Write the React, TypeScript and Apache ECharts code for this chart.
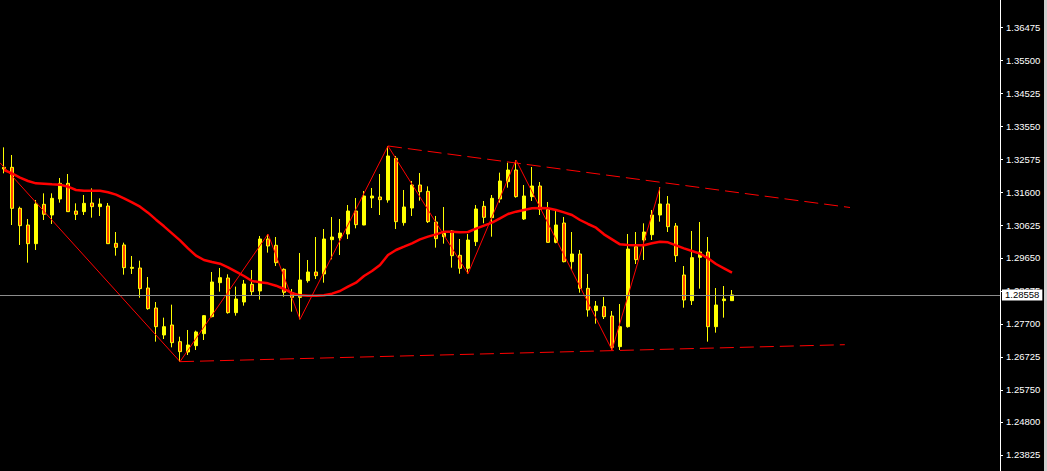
import React, { useEffect, useRef } from "react";
import * as echarts from "echarts";

// ---- Data ----
const SLOT_COUNT = 125; // bar slots across the plot (includes chart shift on the right)

const opens = [
  1.32332, 1.32332, 1.31119, 1.30626, 1.30074, 1.31238, 1.30922, 1.31395, 1.31859, 1.3104,
  1.31021, 1.31277, 1.31169, 1.31188, 1.30084, 1.30035, 1.29344, 1.29354, 1.28762, 1.28171,
  1.27372, 1.27668, 1.27175, 1.26869, 1.27056, 1.27411, 1.27914, 1.2892, 1.29058, 1.28033,
  1.28348, 1.28871, 1.28674, 1.30212, 1.30025, 1.29315, 1.28624, 1.28486, 1.28979, 1.29236,
  1.29177, 1.30192, 1.30242, 1.3036, 1.3104, 1.30626, 1.31425, 1.31455, 1.31366, 1.32599,
  1.30695, 1.31129, 1.3181, 1.31622, 1.30715, 1.30281, 1.30449, 1.29729, 1.29344, 1.30133,
  1.31178, 1.30843, 1.31395, 1.31908, 1.32253, 1.30804, 1.31465, 1.3178, 1.3109, 1.30113,
  1.30685, 1.29541, 1.29768, 1.28752, 1.28092, 1.2821, 1.27934, 1.27027, 1.27618, 1.29985,
  1.30182, 1.3034, 1.30922, 1.31248, 1.30597, 1.29147, 1.28388, 1.2967, 1.29827, 1.27618,
  1.28388, 1.28388,
];

const closes = [
  1.32283, 1.31119, 1.30607, 1.30074, 1.31248, 1.30942, 1.31415, 1.31859, 1.31021, 1.30942,
  1.31267, 1.31169, 1.31248, 1.30074, 1.29965, 1.29364, 1.29374, 1.28743, 1.28151, 1.27618,
  1.27618, 1.27145, 1.26879, 1.27076, 1.27461, 1.27944, 1.2894, 1.29068, 1.28033, 1.28437,
  1.28881, 1.28654, 1.30212, 1.30005, 1.29512, 1.28634, 1.28486, 1.28999, 1.29236, 1.29127,
  1.30212, 1.30271, 1.30389, 1.3104, 1.30636, 1.31484, 1.31484, 1.31376, 1.32668, 1.30725,
  1.31159, 1.3181, 1.31612, 1.30725, 1.30222, 1.3038, 1.29719, 1.29344, 1.30182, 1.311,
  1.30853, 1.31415, 1.31928, 1.32253, 1.31465, 1.31484, 1.3178, 1.3109, 1.30113, 1.30626,
  1.29541, 1.29768, 1.28752, 1.28111, 1.2823, 1.27914, 1.27007, 1.27618, 1.29916, 1.29601,
  1.30419, 1.30922, 1.31248, 1.30577, 1.29719, 1.28407, 1.2966, 1.29827, 1.27618, 1.28259,
  1.28437, 1.28558,
];

const lows = [
  1.32155, 1.30626, 1.30035, 1.29512, 1.29887, 1.30774, 1.30656, 1.31287, 1.31015, 1.30774,
  1.30922, 1.30843, 1.30893, 1.3007, 1.29719, 1.29157, 1.29177, 1.28476, 1.28121, 1.27175,
  1.27253, 1.27007, 1.26583, 1.2678, 1.26928, 1.27224, 1.27894, 1.28654, 1.28003, 1.27944,
  1.2824, 1.28555, 1.28417, 1.29808, 1.29413, 1.28506, 1.28062, 1.27835, 1.2892, 1.29029,
  1.2892, 1.2961, 1.29739, 1.30212, 1.30528, 1.3062, 1.31129, 1.30922, 1.31287, 1.30508,
  1.30607, 1.30893, 1.31346, 1.30685, 1.29956, 1.30074, 1.29364, 1.29186, 1.29186, 1.30005,
  1.30676, 1.30281, 1.31287, 1.31731, 1.31435, 1.30774, 1.31336, 1.30922, 1.30105, 1.30084,
  1.29522, 1.29295, 1.28624, 1.27914, 1.27707, 1.27845, 1.26928, 1.26928, 1.27589, 1.29472,
  1.29591, 1.30182, 1.30725, 1.30419, 1.29532, 1.2818, 1.28259, 1.28743, 1.27175, 1.27441,
  1.27885, 1.28388,
];

const highs = [
  1.32924, 1.32697, 1.31169, 1.30804, 1.31366, 1.31563, 1.31563, 1.32017, 1.32135, 1.31267,
  1.31514, 1.31711, 1.31415, 1.31277, 1.30419, 1.30104, 1.29709, 1.29571, 1.29088, 1.28348,
  1.27885, 1.28269, 1.27322, 1.2752, 1.275, 1.27963, 1.29236, 1.29354, 1.29167, 1.28802,
  1.28999, 1.29295, 1.30301, 1.3036, 1.30271, 1.29344, 1.28733, 1.29798, 1.29591, 1.30271,
  1.30508, 1.30863, 1.30804, 1.31218, 1.31425, 1.31632, 1.31721, 1.32135, 1.32964, 1.32668,
  1.31662, 1.31928, 1.32165, 1.3177, 1.30893, 1.31159, 1.30478, 1.30212, 1.3036, 1.31218,
  1.31336, 1.31514, 1.32175, 1.3247, 1.32549, 1.3181, 1.32342, 1.31898, 1.31307, 1.3105,
  1.30863, 1.30419, 1.29887, 1.29177, 1.28378, 1.28496, 1.28082, 1.28289, 1.3036, 1.30419,
  1.30676, 1.3107, 1.31741, 1.31484, 1.30685, 1.29413, 1.30449, 1.30715, 1.30271, 1.28762,
  1.28821, 1.28703,
];

const movingAverage = [
  1.32253, 1.32155, 1.32027, 1.31928, 1.31859, 1.31849, 1.31829, 1.3182, 1.3176, 1.31662,
  1.31642, 1.31642, 1.31642, 1.31593, 1.31524, 1.31415, 1.31297, 1.31169, 1.30991, 1.30784,
  1.30587, 1.3038, 1.30173, 1.29936, 1.29719, 1.29591, 1.29532, 1.29482, 1.29374, 1.29246,
  1.29117, 1.28969, 1.2893, 1.289, 1.28831, 1.28733, 1.28614, 1.28545, 1.28535, 1.28535,
  1.28545, 1.28595, 1.28674, 1.28802, 1.2892, 1.29117, 1.29265, 1.29443, 1.29739, 1.29887,
  1.29985, 1.30084, 1.30202, 1.30281, 1.3035, 1.30429, 1.30429, 1.30409, 1.30419, 1.30518,
  1.30607, 1.30695, 1.30823, 1.30952, 1.31021, 1.3107, 1.31119, 1.31129, 1.31119, 1.3107,
  1.31001, 1.30922, 1.30774, 1.30656, 1.30547, 1.3035, 1.30202, 1.30054, 1.30035, 1.30025,
  1.30025, 1.30084, 1.30133, 1.30113, 1.30025, 1.29936, 1.29857, 1.29778, 1.2964, 1.29472,
  1.29344, 1.29216,
];

// ZigZag turning points (bar index, price); first point sits at the left edge of the plot
const zigzagIndex = [-0.5, 22, 33, 37, 48, 58, 64, 76, 82];
const zigzagPrice = [1.32469, 1.26583, 1.3036, 1.27835, 1.32964, 1.29186, 1.32549, 1.26928, 1.31741];

// Trend lines (bar index, price) – start and end
const upperTrendIndex = [48, 105.75];
const upperTrendPrice = [1.32964, 1.31144];
const lowerTrendIndex = [22, 105.1];
const lowerTrendPrice = [1.26583, 1.27085];

const bidPrice = 1.28558;

const tickLabels = [
  "1.36475", "1.35500", "1.34525", "1.33550", "1.32575", "1.31600", "1.30625",
  "1.29650", "1.28675", "1.27700", "1.26725", "1.25750", "1.24800", "1.23825",
];

const Y_MIN = 1.23348;
const Y_MAX = 1.37283;

export default function App() {
  const ref = useRef<HTMLDivElement>(null);

  useEffect(() => {
    if (!ref.current) return;
    const chart = echarts.init(ref.current, null, { renderer: "svg" });

    const categories = Array.from({ length: SLOT_COUNT }, (_, i) => String(i));
    const candleData = opens.map((o, i) => [o, closes[i], lows[i], highs[i]]);
    const tickValues = tickLabels.map((t) => parseFloat(t));
    const labelFor = (v: number) => {
      let best = 0;
      let bestD = Infinity;
      tickValues.forEach((tv, i) => {
        const d = Math.abs(tv - v);
        if (d < bestD) {
          bestD = d;
          best = i;
        }
      });
      return tickLabels[best];
    };
    const pairs = (xs: number[], ys: number[]) => xs.map((x, i) => [x, ys[i]]);

    const font = "Liberation Sans, Arial, sans-serif";

    chart.setOption({
      animation: false,
      backgroundColor: "#000000",
      grid: { left: 0, right: 47, top: 0, bottom: 0, containLabel: false },
      xAxis: [
        { type: "category", data: categories, boundaryGap: true, show: false },
        { type: "value", min: -0.5, max: SLOT_COUNT - 0.5, show: false },
      ],
      yAxis: {
        type: "value",
        position: "right",
        min: Y_MIN,
        max: Y_MAX,
        splitLine: { show: false },
        axisLine: { show: true, onZero: false, lineStyle: { color: "#ffffff", width: 1 } },
        axisTick: {
          show: true,
          length: 3,
          lineStyle: { color: "#ffffff", width: 1 },
          customValues: tickValues,
        },
        axisLabel: {
          color: "#ffffff",
          fontFamily: font,
          fontSize: 9.5,
          margin: 6,
          customValues: tickValues,
          formatter: (v: number) => labelFor(v),
        },
      },
      graphic: [
        {
          type: "rect",
          shape: { x: 1044, y: 0, width: 3, height: 471 },
          style: { fill: "#d0d0d0" },
          silent: true,
        },
      ],
      series: [
        {
          type: "candlestick",
          xAxisIndex: 0,
          yAxisIndex: 0,
          data: candleData,
          barWidth: 4,
          itemStyle: {
            color: "#FFFF00",
            color0: "#FF4500",
            borderColor: "#FFFF00",
            borderColor0: "#FFFF00",
            borderWidth: 1,
          },
          markLine: {
            silent: true,
            precision: 5,
            symbol: ["none", "none"],
            data: [{ yAxis: bidPrice }],
            lineStyle: { color: "#8c8c8c", width: 1, type: "solid" },
            label: {
              show: true,
              position: "end",
              distance: 2,
              formatter: () => bidPrice.toFixed(5),
              backgroundColor: "#ffffff",
              color: "#000000",
              fontFamily: font,
              fontSize: 9.5,
              padding: [1, 3, 0, 3],
            },
            z: 10,
          },
          z: 2,
        },
        {
          type: "line",
          xAxisIndex: 0,
          yAxisIndex: 0,
          data: movingAverage,
          showSymbol: false,
          smooth: false,
          lineStyle: { color: "#FF0000", width: 2.5 },
          z: 3,
          silent: true,
        },
        {
          type: "line",
          xAxisIndex: 1,
          yAxisIndex: 0,
          data: pairs(zigzagIndex, zigzagPrice),
          showSymbol: false,
          lineStyle: { color: "#FF0000", width: 1 },
          z: 4,
          silent: true,
        },
        {
          type: "line",
          xAxisIndex: 1,
          yAxisIndex: 0,
          data: pairs(upperTrendIndex, upperTrendPrice),
          showSymbol: false,
          lineStyle: { color: "#FF0000", width: 1, type: [14, 6] },
          z: 4,
          silent: true,
        },
        {
          type: "line",
          xAxisIndex: 1,
          yAxisIndex: 0,
          data: pairs(lowerTrendIndex, lowerTrendPrice),
          showSymbol: false,
          lineStyle: { color: "#FF0000", width: 1, type: [14, 6] },
          z: 4,
          silent: true,
        },
      ],
    });

    return () => chart.dispose();
  }, []);

  return (
    <div
      ref={ref}
      style={{ position: "fixed", left: 0, top: 0, width: 1047, height: 471, background: "#000" }}
    />
  );
}
